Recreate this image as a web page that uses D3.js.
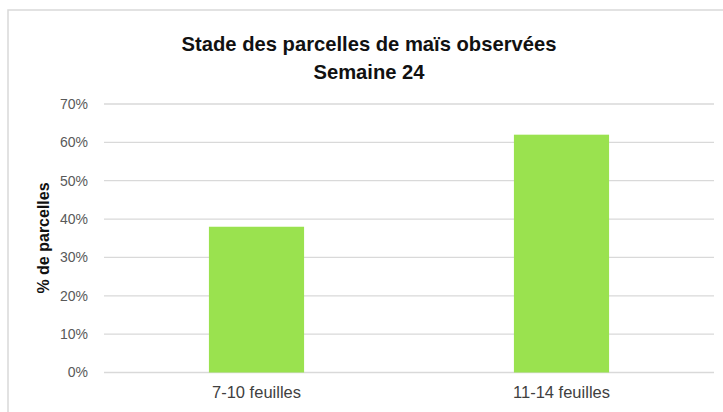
<!DOCTYPE html>
<html>
<head>
<meta charset="utf-8">
<script src="https://cdn.jsdelivr.net/npm/d3@7"></script>
<style>
  html, body { margin: 0; padding: 0; background: #fff; }
  svg { display: block; }
</style>
</head>
<body>
<script>
const categories = ["7-10 feuilles", "11-14 feuilles"];
const values = [0.38, 0.62];
const yTicks = [0, 0.1, 0.2, 0.3, 0.4, 0.5, 0.6, 0.7];
const titleLines = ["Stade des parcelles de maïs observées", "Semaine 24"];
const yLabel = "% de parcelles";

const W = 723, H = 412;
const margin = { left: 104, right: 9, top: 104, bottom: 40 };
const svg = d3.select("body").append("svg").attr("width", W).attr("height", H);

// chart border
svg.append("rect")
  .attr("x", 8).attr("y", 10).attr("width", 740).attr("height", 430)
  .attr("fill", "#fff").attr("stroke", "#d9d9d9").attr("stroke-width", 1.5);

const x = d3.scaleBand().domain(categories).range([margin.left, W - margin.right]).padding(0);
const y = d3.scaleLinear().domain([0, 0.7]).range([372.5, 104]);

// gridlines
svg.append("g").selectAll("line").data(yTicks).join("line")
  .attr("x1", margin.left).attr("x2", W - margin.right)
  .attr("y1", d => y(d)).attr("y2", d => y(d))
  .attr("stroke", "#d9d9d9").attr("stroke-width", 1.3);

// bars
const barW = x.bandwidth() * 0.312;
svg.append("g").selectAll("rect").data(values).join("rect")
  .attr("x", (d, i) => x(categories[i]) + x.bandwidth() / 2 - barW / 2)
  .attr("width", barW)
  .attr("y", d => y(d))
  .attr("height", d => y(0) - y(d))
  .attr("fill", "#9ae24f");

// y axis tick labels
const yAxis = d3.axisLeft(y).tickValues(yTicks).tickFormat(d3.format(".0%")).tickSize(0).tickPadding(0);
const ya = svg.append("g").attr("transform", "translate(88,0)").call(yAxis);
ya.select(".domain").remove();
ya.selectAll("text")
  .attr("font-family", "'Liberation Sans', Arial, sans-serif")
  .attr("font-size", 14).attr("fill", "#595959");

// x axis labels
const xAxis = d3.axisBottom(x).tickSize(0).tickPadding(0);
const xa = svg.append("g").attr("transform", "translate(0,386)").call(xAxis);
xa.select(".domain").remove();
xa.selectAll("text")
  .attr("font-family", "'Liberation Sans', Arial, sans-serif")
  .attr("font-size", 16.5).attr("fill", "#404040");

// title
svg.append("g").selectAll("text").data(titleLines).join("text")
  .attr("x", 369).attr("y", (d, i) => 51 + i * 28)
  .attr("text-anchor", "middle")
  .attr("font-family", "'Liberation Sans', Arial, sans-serif")
  .attr("font-weight", "bold").attr("font-size", 20.2).attr("fill", "#111")
  .text(d => d);

// y label
svg.append("text")
  .attr("transform", "translate(49,238) rotate(-90)")
  .attr("text-anchor", "middle")
  .attr("font-family", "'Liberation Sans', Arial, sans-serif")
  .attr("font-weight", "bold").attr("font-size", 16).attr("fill", "#111")
  .text(yLabel);
</script>
</body>
</html>
